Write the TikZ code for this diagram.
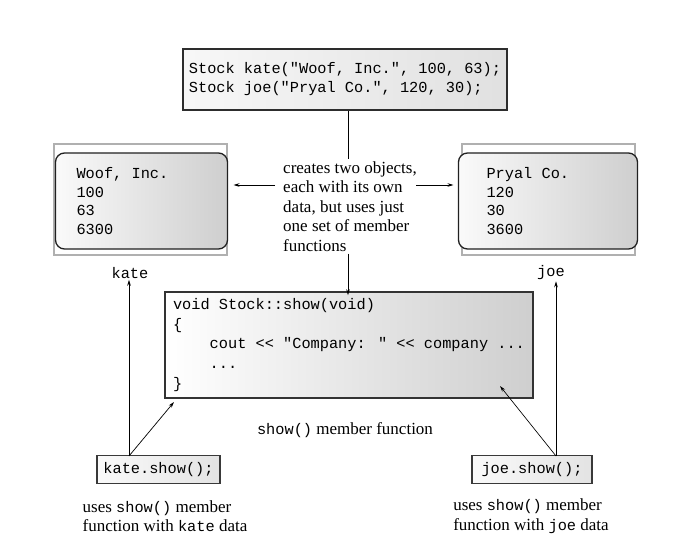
\documentclass[tikz,border=0pt]{standalone}
\usepackage{fontspec}
\setmainfont{Liberation Serif}
\newfontfamily\codefont{Liberation Mono}[Ligatures=TeXOff]
\usetikzlibrary{arrows.meta}
\newcommand{\cd}[1]{{\codefont\fontsize{15.3}{19}\selectfont #1}}
\newcommand{\nsp}{\spaceskip=0pt\xspaceskip=0pt\relax}
\begin{document}
\begin{tikzpicture}[x=1pt,y=-1pt,
  code/.style={font=\codefont\fontsize{15.3}{19}\selectfont},
  serif/.style={font=\fontsize{17}{19.5}\selectfont},
  arr/.style={-{Stealth[length=6pt,width=3.6pt]}, line width=0.7pt},
  ln/.style={line width=0.7pt},
  topbox/.style={draw=gray!35!black, line width=1.5pt, left color=gray!6, right color=gray!24,
    minimum width=324pt, minimum height=61pt, inner sep=0pt, align=left, code},
  showbox/.style={draw=gray!40!black, line width=1.6pt, left color=white, right color=gray!38,
    minimum width=368pt, minimum height=106pt, inner ysep=0pt, inner xsep=8pt, text width=352pt,
    align=left, font=\codefont\fontsize{15.3}{19.8}\selectfont},
  objbox/.style={draw=gray!62, line width=1.1pt, fill=white, minimum width=173pt, minimum height=111pt},
  inbox/.style={draw=gray!25!black, line width=1.3pt, rounded corners=9pt, left color=gray!4, right color=gray!38,
    minimum width=151pt, minimum height=96pt, inner ysep=0pt, align=left,
    font=\codefont\fontsize{15.3}{18.8}\selectfont},
  callbox/.style={draw=gray!45!black, line width=1.2pt, left color=gray!4, right color=gray!22,
    minimum height=28pt, inner ysep=0pt, code}
]
\useasboundingbox (0,0) rectangle (689,557);

% top declaration box
\node[topbox] (decl) at (345,79.5) {Stock kate("Woof, Inc.", 100, 63);\\Stock joe("Pryal Co.", 120, 30);};

% description text
\node[serif, align=left, inner sep=2pt] (desc) at (350,206.5)
  {creates two objects,\\each with its own\\data, but uses just\\one set of member\\functions};

% object boxes
\node[objbox] (kobj) at (140.5,199.5) {};
\node[inbox, text width=130pt, inner xsep=21pt] (kin) at (141.5,201)
  {\nsp Woof, Inc.\\100\\63\\6300};
\node[objbox] (jobj) at (548.5,199.5) {};
\node[inbox, text width=123pt, inner xsep=28pt] (jin) at (548,201)
  {\nsp Pryal Co.\\120\\30\\3600};

\node[code, inner sep=1pt] (klab) at (130,273) {kate};
\node[code, inner sep=1pt] (jlab) at (551,273) {joe};

% show function box
\node[showbox] (show) at (349,345)
  {\nsp void Stock::show(void)\\\{\\\phantom{xxxx}cout << "Company: " << company ...\\\phantom{xxxx}...\\\}};

\node[serif, inner sep=1pt] (showlab) at (345,430) {\cd{show()} member function};

% call boxes
\node[callbox, minimum width=123pt] (kshow) at (158.5,469.5) {kate.show();};
\node[callbox, minimum width=120pt] (jshow) at (532,469.5) {joe.show();};

\node[serif, align=left, inner sep=1pt] (kcap) at (165,516)
  {uses \cd{show()} member\\function with \cd{kate} data};
\node[serif, align=left, inner sep=1pt] (jcap) at (531,516)
  {uses \cd{show()} member\\function with \cd{joe} data};

% connectors
\coordinate (mid) at (348,0);
\draw[ln] (decl.south -| mid) -- (desc.north -| mid);
\draw[arr] (desc.south -| mid) -- ([yshift=-4pt]show.north -| mid);

\coordinate (la) at (275,185);
\coordinate (ra) at (416,185);
\draw[arr] (la) -- ([xshift=6pt]la -| kobj.east);
\draw[arr] (ra) -- ([xshift=-8pt]ra -| jobj.west);

\coordinate (ka) at (129,456);
\coordinate (ja) at (556,456);
\coordinate (kt) at (174,402);
\coordinate (jt) at (500,386);
\draw[arr] (ka) -- (ka |- klab.south);
\draw[arr] (ka) -- (kt);
\draw[arr] (ja) -- (ja |- jlab.south);
\draw[arr] (ja) -- (jt);
\end{tikzpicture}
\end{document}
